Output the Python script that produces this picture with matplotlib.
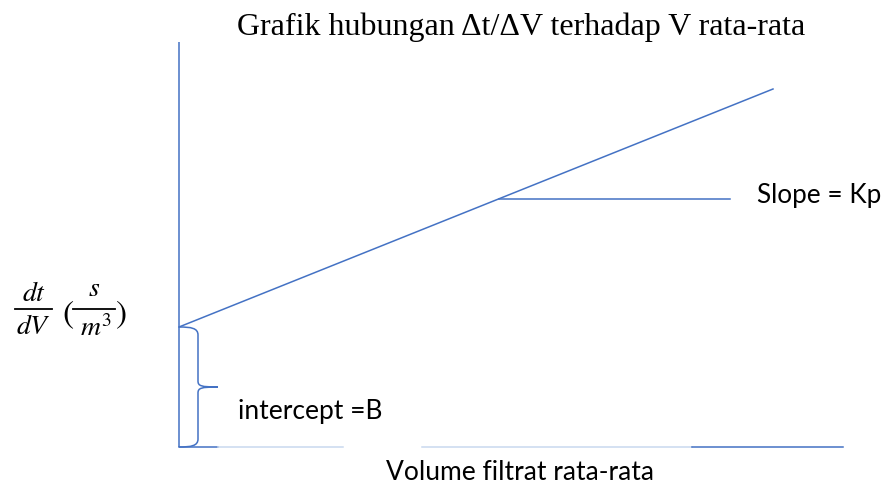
import matplotlib
matplotlib.use("Agg")
import matplotlib.pyplot as plt
from matplotlib.path import Path
from matplotlib.patches import PathPatch

# Schematic data (arbitrary units)
volume = [0, 594]          # average filtrate volume
dt_dv = [120, 358]         # dt/dV on the line
intercept_B = 120
slope_point = [320, 248]   # where the slope marker starts
slope_end_x = 551
axis_top = 405
axis_right = 664

title = "Grafik hubungan \u0394t/\u0394V terhadap V rata-rata"
xlabel = "Volume filtrat rata-rata"
slope_label = "Slope = Kp"
intercept_label = "intercept =B"

BLUE = "#4472C4"
LIGHT = "#C9D9EF"

plt.rcParams["mathtext.fontset"] = "stix"

fig = plt.figure(figsize=(8.85, 4.88), dpi=100)
ax = fig.add_axes([0, 0, 1, 1])
ax.set_xlim(-179, 706)
ax.set_ylim(-41, 447)
ax.axis("off")

lw = 1.1
# y axis
ax.plot([0, 0], [0, axis_top], color=BLUE, lw=lw, solid_capstyle="butt")
# x axis (segmented as in the source)
ax.plot([0, 39], [0, 0], color=BLUE, lw=lw)
ax.plot([39, 164], [0, 0], color=LIGHT, lw=lw)
ax.plot([243, 513], [0, 0], color=LIGHT, lw=lw)
ax.plot([513, axis_right], [0, 0], color=BLUE, lw=lw)

# regression line
ax.plot(volume, dt_dv, color=BLUE, lw=lw)
# slope marker
ax.plot([slope_point[0], slope_end_x], [slope_point[1], slope_point[1]], color=BLUE, lw=lw)

# brace for intercept
B = intercept_B
m = B / 2
verts = [(0, B), (12, B), (19, B - 1), (19, B - 8),
         (19, m + 6),
         (19, m + 1), (22, m), (39, m),
         (22, m), (19, m - 1), (19, m - 6),
         (19, 8),
         (19, 1), (12, 0), (0, 0)]
codes = [Path.MOVETO, Path.CURVE4, Path.CURVE4, Path.CURVE4,
         Path.LINETO,
         Path.CURVE4, Path.CURVE4, Path.CURVE4,
         Path.CURVE4, Path.CURVE4, Path.CURVE4,
         Path.LINETO,
         Path.CURVE4, Path.CURVE4, Path.CURVE4]
ax.add_patch(PathPatch(Path(verts, codes), facecolor="none", edgecolor=BLUE, lw=lw))

ax.text(342, 420, title, ha="center", va="center", fontsize=23,
        family="Liberation Serif", color="black")
ax.text(578, 252, slope_label, ha="left", va="center", fontsize=18.8,
        family="Lato", color="black")
ax.text(59, 35, intercept_label, ha="left", va="center", fontsize=19,
        family="Lato", color="black")
ax.text(341, -26, xlabel, ha="center", va="center", fontsize=19,
        family="Lato", color="black")

# y label built as stacked fractions: dt/dV (s/m^3)
fs = 20
ax.text(-145, 146, r"$dt$", ha="center", va="baseline", fontsize=fs, color="black")
ax.plot([-164, -127], [138, 138], color="black", lw=1.3)
ax.text(-146, 113, r"$dV$", ha="center", va="baseline", fontsize=fs, color="black")
ax.text(-111, 124, r"$($", ha="center", va="baseline", fontsize=24, color="black")
ax.text(-85, 151, r"$s$", ha="center", va="baseline", fontsize=fs, color="black")
ax.plot([-106, -64], [138, 138], color="black", lw=1.3)
ax.text(-83, 111, r"$m^3$", ha="center", va="baseline", fontsize=fs, color="black")
ax.text(-58, 124, r"$)$", ha="center", va="baseline", fontsize=24, color="black")

fig.savefig("out.png", dpi=100)
